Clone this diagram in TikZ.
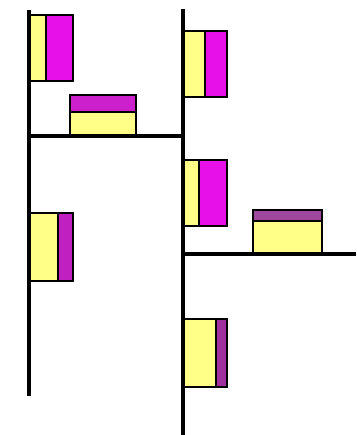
\documentclass[tikz,border=0pt]{standalone}
\definecolor{yel}{HTML}{FFFF88}
\definecolor{mag}{HTML}{E810E8}
\definecolor{magb}{HTML}{CC20CC}
\definecolor{magc}{HTML}{C020C0}
\definecolor{magd}{HTML}{A048A0}
\definecolor{mage}{HTML}{A030A0}
\tikzset{axis line/.style={line width=4.2pt,black},
  boxborder/.style={draw=black,line width=2.2pt}}
\begin{document}
\begin{tikzpicture}[x=1pt,y=-1pt]
\useasboundingbox (0,0) rectangle (356,435);
% box 1
\fill[yel] (29,15) rectangle (46,81);
\fill[mag] (46,15) rectangle (73,81);
\draw[boxborder] (29,15) rectangle (73,81) (46,15) -- (46,81);
% box 2
\fill[magb] (70,95) rectangle (136,112);
\fill[yel] (70,112) rectangle (136,136);
\draw[boxborder] (70,95) rectangle (136,136) (70,112) -- (136,112);
% box 3
\fill[yel] (183,31) rectangle (205,97);
\fill[mag] (205,31) rectangle (227,97);
\draw[boxborder] (183,31) rectangle (227,97) (205,31) -- (205,97);
% box 4
\fill[yel] (183,160) rectangle (199,226);
\fill[mag] (199,160) rectangle (227,226);
\draw[boxborder] (183,160) rectangle (227,226) (199,160) -- (199,226);
% box 5
\fill[magd] (253,210) rectangle (322,221);
\fill[yel] (253,221) rectangle (322,254);
\draw[boxborder] (253,210) rectangle (322,254) (253,221) -- (322,221);
% box 6
\fill[yel] (29,213) rectangle (58,281);
\fill[magc] (58,213) rectangle (73,281);
\draw[boxborder] (29,213) rectangle (73,281) (58,213) -- (58,281);
% box 7
\fill[yel] (183,319) rectangle (216,387);
\fill[mage] (216,319) rectangle (227,387);
\draw[boxborder] (183,319) rectangle (227,387) (216,319) -- (216,387);
% lines
\coordinate (a1) at (29,10);
\coordinate (a2) at (29,396);
\coordinate (b1) at (29,136);
\coordinate (b2) at (183,136);
\coordinate (c1) at (183,9);
\coordinate (c2) at (183,435);
\coordinate (d1) at (183,254);
\coordinate (d2) at (356,254);
\draw[axis line] (a1) -- (a2);
\draw[axis line] (b1) -- (b2);
\draw[axis line] (c1) -- (c2);
\draw[axis line] (d1) -- (d2);
\end{tikzpicture}
\end{document}
